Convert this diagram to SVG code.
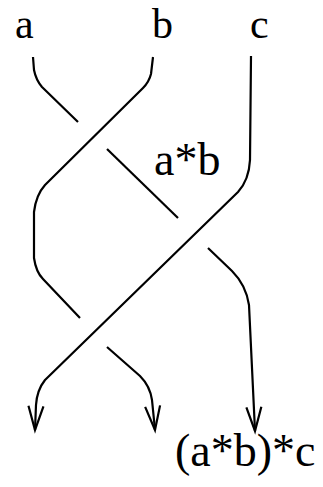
<svg xmlns="http://www.w3.org/2000/svg" width="323" height="487" viewBox="0 0 323 487">
<style>
.lbl{font-family:"Liberation Serif","Times New Roman",serif;font-size:46px;fill:#000}
.top{font-size:42px}
.str{fill:none;stroke:#000;stroke-width:2.2;stroke-linecap:butt;stroke-linejoin:round}
</style>
<defs>
<marker id="arr" markerUnits="userSpaceOnUse" markerWidth="30" markerHeight="20" viewBox="-26 -10 30 20" refX="0" refY="0" orient="auto" overflow="visible">
<path d="M-24,-7.5 L0,0 L-24,7.5" fill="none" stroke="#000" stroke-width="2.2" stroke-linejoin="miter"/>
</marker>
</defs>
<rect width="323" height="487" fill="#fff"/>
<g id="connectors">
<path class="str" d="M33,57 L34,70 Q36,80 42,87 L78,122"/>
<path class="str" d="M107,149 L178,218"/>
<path class="str" d="M208,248 L232,271 Q246,285 249,305 L255,431" marker-end="url(#arr)"/>
<path class="str" d="M153,57 L151,74 Q149,82 143,88 L45,185 Q36,195 34,212 L34,258 Q36,272 43,279 L80,318"/>
<path class="str" d="M107,347 L140,376 Q150,386 152,400 L155,430" marker-end="url(#arr)"/>
<path class="str" d="M251,56 L250,160 Q249,180 238,192 L45,380 Q37,390 36,405 L35,430" marker-end="url(#arr)"/>
</g>
<g id="node-a"><text class="lbl top" x="15" y="37.5">a</text></g>
<g id="node-b"><text class="lbl top" x="152" y="37.5">b</text></g>
<g id="node-c"><text class="lbl top" x="250" y="37.5">c</text></g>
<g id="node-ab"><text class="lbl" x="154" y="175">a*b</text></g>
<g id="node-abc"><text class="lbl" x="175" y="466">(a*b)*c</text></g>
</svg>
